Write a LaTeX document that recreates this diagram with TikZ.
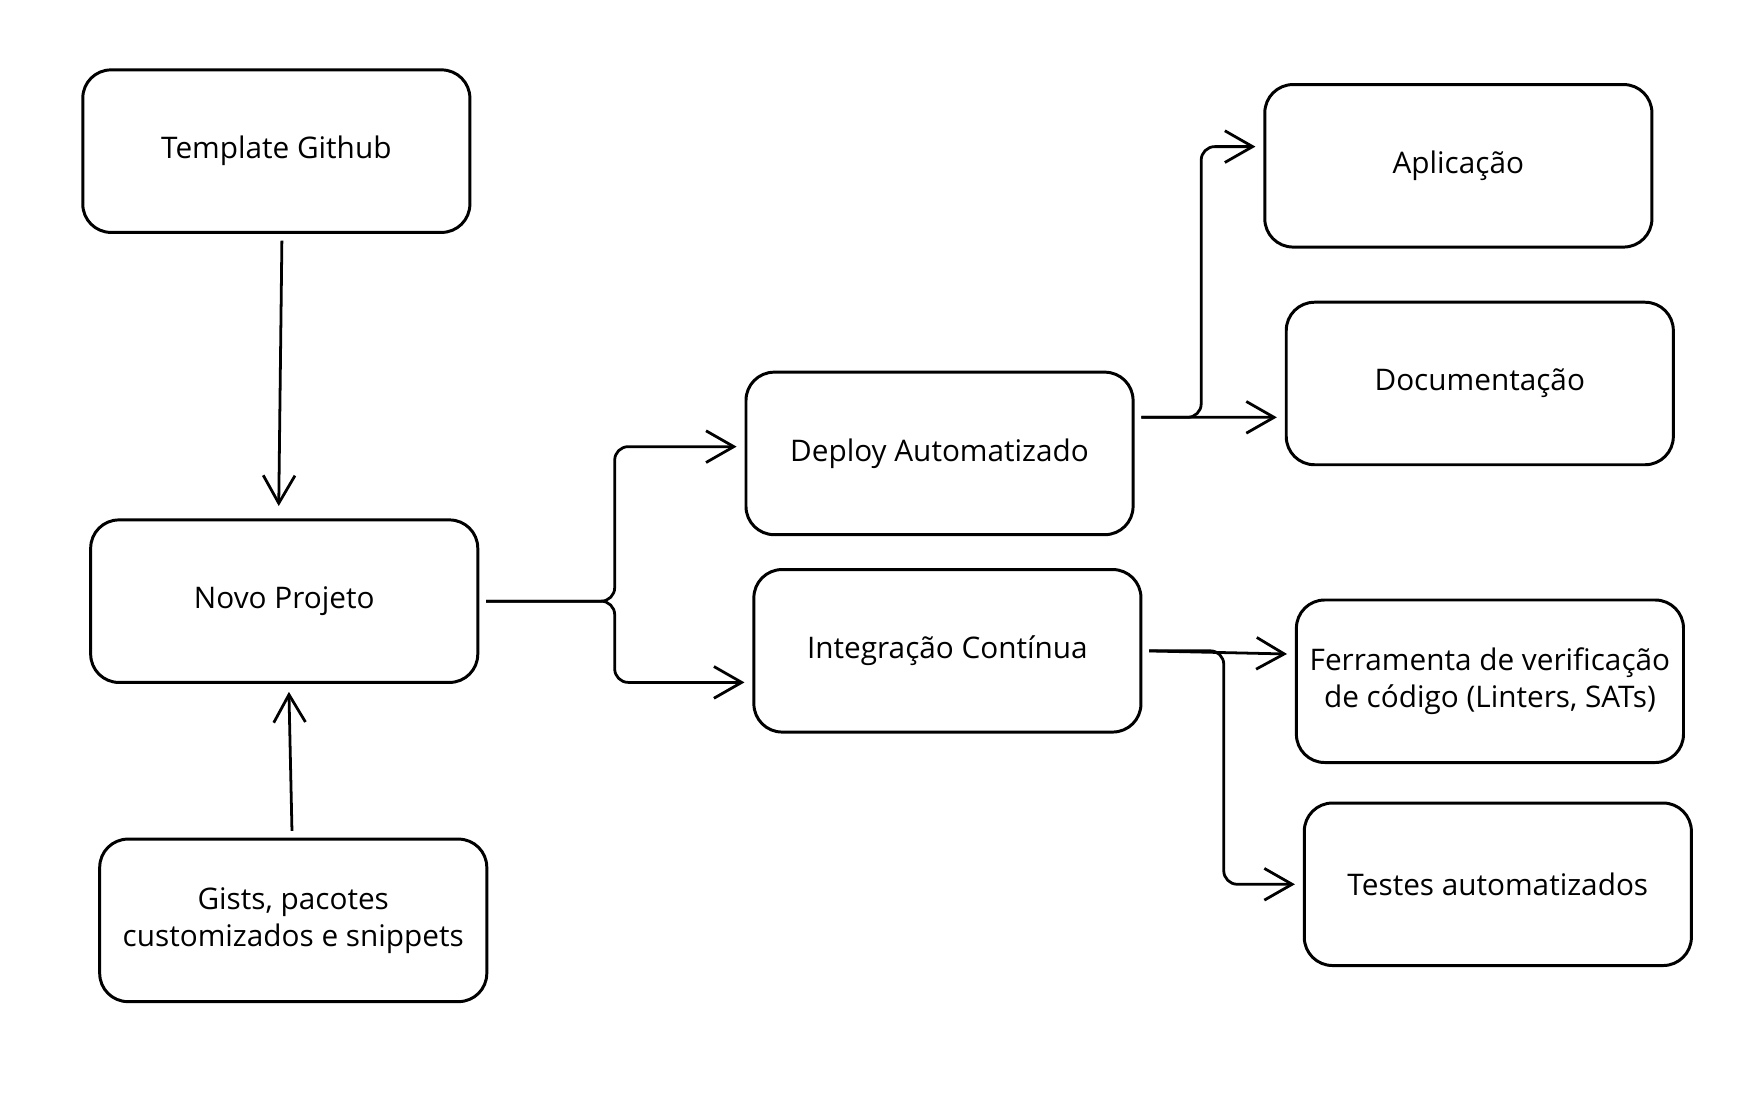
\documentclass[tikz,border=0pt]{standalone}
\usepackage{fontspec}
\setmainfont{Open Sans}
\usetikzlibrary{arrows.meta}
\usetikzlibrary{positioning}

\begin{document}
\begin{tikzpicture}[x=0.01cm, y=-0.01cm,
    box/.style={draw, line width=0.75pt, rounded corners=0.25cm,
      minimum width=3.43cm, minimum height=1.44cm, align=center,
      font=\fontsize{7.5}{9.4}\selectfont},
    link/.style={draw, line width=0.7pt, rounded corners=0.12cm,
      -{Straight Barb[length=7pt, width=8pt, line width=0.7pt]},
      shorten <=0.06cm, shorten >=0.07cm}]
      \useasboundingbox (0, 0) rectangle (1564, 975);

      \node [box] (tmpl) at (245, 134) {Template Github};
      \node [box] (novo) at (252, 533) {Novo Projeto};
      \node [box] (gists) at (260, 816) {Gists, pacotes\\customizados e snippets};

      \node [box] (deploy) at (833, 402) {Deploy Automatizado};
      \node [box] (integ) at (840, 577) {Integração Contínua};

      \node [box] (apl) at (1293, 147) {Aplicação};
      \node [box] (doc) at (1312, 340) {Documentação};
      \node [box] (ferr) at (1321, 604) {Ferramenta de verificação\\de código (Linters, SATs)};
      \node [box] (test) at (1328, 784) {Testes automatizados};

      \coordinate (ja) at (545, 533);
      \coordinate (jb) at (1065, 370);
      \coordinate (jc) at (1085, 577);

      \draw [link, shorten >=0.11cm] ([xshift=0.05cm]tmpl.south) -- ([xshift=-0.05cm]novo.north);
      \draw [link] ([xshift=-0.01cm]gists.north) -- ([xshift=0.04cm]novo.south);

      \draw [link] (novo.east) -- (ja) |- ([yshift=0.06cm]deploy.west);
      \draw [link] (novo.east) -- (ja) |- ([yshift=-0.28cm]integ.west);

      \draw [link] ([yshift=0.32cm]deploy.east) -- (jb) |- ([yshift=0.17cm]apl.west);
      \draw [link] ([yshift=0.32cm]deploy.east) -- ([yshift=-0.3cm]doc.west);

      \draw [link] (integ.east) -- ([yshift=0.24cm]ferr.west);
      \draw [link] (integ.east) -- (jc) |- (test.west);
    \end{tikzpicture}
\end{document}
